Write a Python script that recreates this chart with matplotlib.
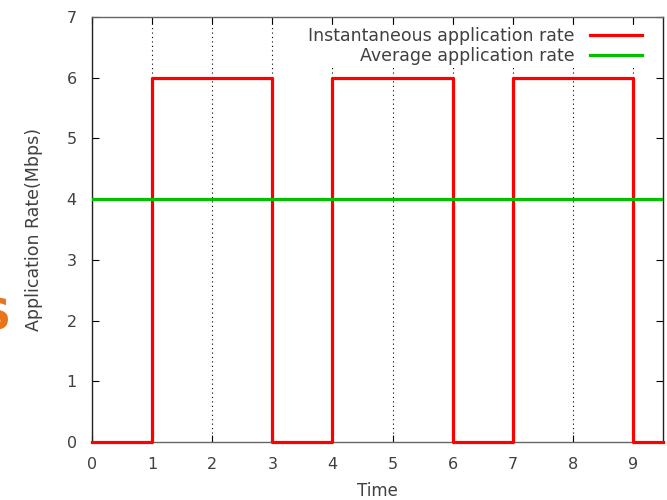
import matplotlib
matplotlib.use("Agg")
import matplotlib.pyplot as plt

# step data: time breakpoints and rate (Mbps)
time_pts = [0, 1, 1, 3, 3, 4, 4, 6, 6, 7, 7, 9, 9, 9.5]
inst_rate = [0, 0, 6, 6, 0, 0, 6, 6, 0, 0, 6, 6, 0, 0]
avg_rate = 4
x_ticks = [0, 1, 2, 3, 4, 5, 6, 7, 8, 9]
y_ticks = [0, 1, 2, 3, 4, 5, 6, 7]

fig = plt.figure(figsize=(6.67, 5), dpi=100)
ax = fig.add_axes([92/667, 1 - 442/500, (663 - 92)/667, (442 - 17)/500])

ax.plot(time_pts, inst_rate, color="#ff0000", lw=2.3, label="Instantaneous application rate",
        clip_on=False, zorder=3)
ax.axhline(avg_rate, color="#00c000", lw=2.3, label="Average application rate", zorder=3)

ax.set_xlim(0, 9.5)
ax.set_ylim(0, 7)
ax.set_xticks(x_ticks)
ax.set_yticks(y_ticks)
ax.tick_params(direction="in", top=True, right=True, length=5, labelsize=11.5,
               labelcolor="#404040", pad=11)
for s in ax.spines.values():
    s.set_color("#222222")
    s.set_linewidth(1)
ax.spines["top"].set_color("#666666")
ax.spines["bottom"].set_color("#666666")

ax.grid(axis="x", color="black", linestyle=(0, (1, 3)), lw=0.8)

ax.set_xlabel("Time", fontsize=12, color="#404040", labelpad=7)
ax.set_ylabel("Application Rate(Mbps)", fontsize=12.5, color="#404040", labelpad=17)

leg = ax.legend(loc="upper right", bbox_to_anchor=(0.97, 0.985), markerfirst=False,
                frameon=True, fancybox=False, framealpha=1, edgecolor="none",
                facecolor="white", borderpad=0.0,
                fontsize=12.5, handlelength=3.0, borderaxespad=0.2, labelspacing=0.12,
                labelcolor="#404040", handletextpad=0.9)

fig.text(11/667, 0.364, "S", color="#e8741c", fontsize=30, fontweight="bold",
         ha="right", va="center")

fig.savefig("out.png", dpi=100)
